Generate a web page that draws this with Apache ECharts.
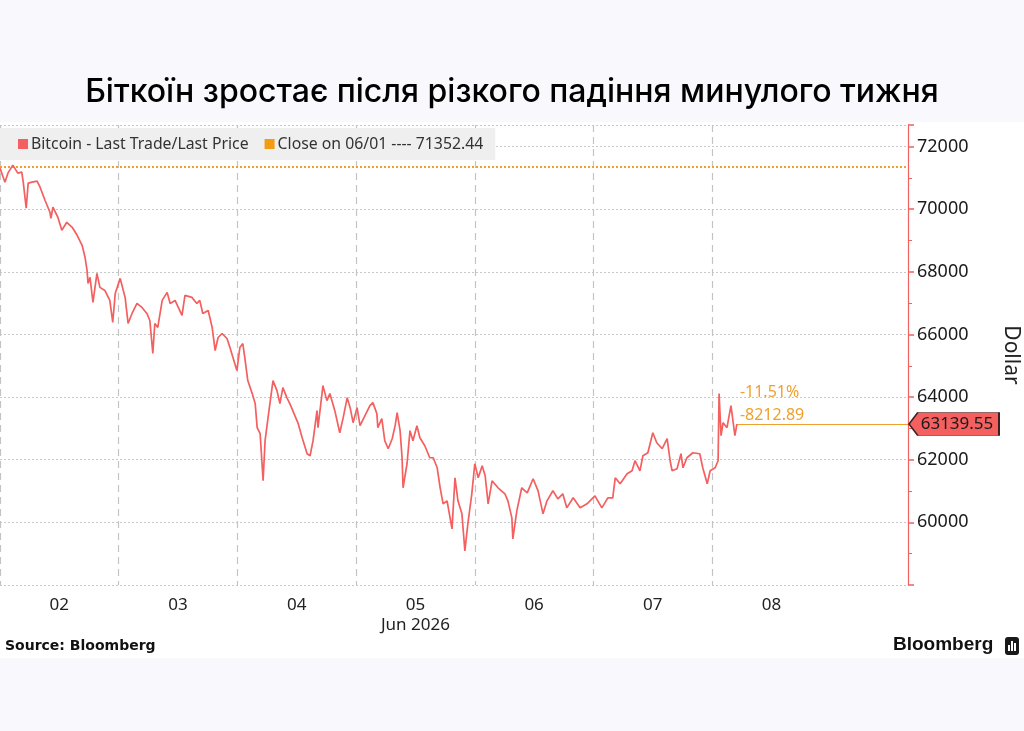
<!DOCTYPE html>
<html>
<head>
<meta charset="utf-8">
<script src="https://cdn.jsdelivr.net/npm/echarts@6/dist/echarts.min.js"></script>
<style>
html,body{margin:0;padding:0;background:#f9f8fd;}
#panel{position:absolute;left:0;top:122px;width:1024px;height:536px;background:#ffffff;}
#chart{position:absolute;left:0;top:0;width:1024px;height:731px;}
</style>
</head>
<body>
<div id="panel"></div>
<div id="chart"></div>
<script>
// Hours since 2 Jun 2026 00:00
const hours = [0.0,1.0,1.6,2.6,3.6,4.4,4.7,5.3,5.7,6.5,7.5,8.1,9.1,10.1,10.3,10.7,11.7,12.5,13.5,14.6,15.6,16.6,17.2,17.6,17.8,18.2,18.8,19.6,20.2,21.2,22.2,22.8,23.3,24.3,25.3,25.9,26.7,27.7,28.7,29.7,30.3,30.9,31.3,31.9,32.8,33.8,34.4,35.4,36.8,37.4,38.8,39.8,40.4,41.0,42.1,42.9,43.5,44.1,44.9,45.9,46.5,47.1,47.9,48.5,49.1,49.5,50.1,51.0,51.6,52.0,52.6,53.2,53.6,54.2,55.2,56.0,56.6,57.2,58.0,58.6,59.2,60.3,61.1,62.1,62.7,63.3,64.1,64.3,65.3,66.1,66.7,67.7,68.7,69.4,70.2,70.8,71.4,72.2,72.8,73.8,74.8,75.4,76.2,76.4,77.2,77.8,78.5,79.3,79.9,80.3,80.9,81.3,81.5,82.3,82.9,83.5,84.3,84.9,85.9,86.9,87.6,88.4,89.0,89.6,90.4,91.4,92.0,92.6,93.4,94.0,94.6,95.4,96.0,96.7,97.5,98.1,98.7,99.5,100.7,102.1,102.7,103.5,103.7,104.5,105.5,106.6,107.8,108.8,109.8,110.6,111.8,112.8,113.8,114.6,115.9,117.3,118.7,120.3,121.7,122.9,123.9,124.4,125.4,126.8,127.8,128.4,129.4,130.0,131.0,132.0,132.8,133.9,134.9,135.5,135.9,136.9,137.7,138.1,138.9,140.1,141.5,142.1,143.0,143.6,144.6,145.2,145.4,145.8,146.2,147.0,147.8,148.6,149.0];
const prices = [71312,70864,71152,71408,71152,71184,70864,70032,70832,70864,
70896,70704,70288,69904,69712,70064,69744,69328,69584,69424,
69168,68848,68464,68048,67632,67824,67024,67952,67504,67408,
67088,66384,67312,67792,67184,66352,66672,66992,66864,66672,
66448,65392,66352,66224,67088,67344,66992,67088,66608,67248,
67184,66992,67088,66672,66768,66224,65488,65904,66032,65872,
65584,65264,64848,65584,65712,65264,64528,64112,63792,63024,
62832,61328,62608,63344,64528,64208,63792,64304,63984,63792,
63568,63152,62704,62192,62128,62608,63568,63024,64368,63888,
64112,63568,62864,63344,63984,63664,63184,63664,63088,63408,
63728,63824,63472,63024,63312,62608,62352,62672,63088,63504,
62928,62064,61104,61872,62928,62608,63088,62704,62448,62064,
62064,61744,61104,60592,60688,59792,61424,60688,60272,59088,
59952,60912,61872,61424,61808,61488,60592,61328,61104,60912,
60688,60144,59472,60368,61104,60944,61392,61008,60272,60688,
61008,60752,60912,60464,60784,60464,60592,60848,60464,60784,
60784,61424,61232,61552,61648,61968,61648,62128,62224,62864,
62544,62352,62672,61968,61648,61712,62192,61744,62064,62224,
62192,61744,61232,61648,61744,61968,64112,62768,63184,63024,
63728,62768,63139.55];
const dayLabels = ['02','03','04','05','06','07','08'];
const monthLabel = 'Jun 2026';
const closePrev = 71352.44;
const lastPrice = 63139.55;
const changeAbs = '-8212.89';
const changePct = '-11.51%';
const xMax = 183.6;
const yMin = 58000, yMax = 72690;

const RED = '#f45f5f';
const ORANGE = '#f0a02e';
const FONT = '"Noto Sans", "Open Sans", sans-serif';
const GRIDV = '#c4c4c4';

const lineData = hours.map((h, i) => [h, prices[i]]);

const chart = echarts.init(document.getElementById('chart'), null, {renderer: 'canvas'});
chart.setOption({
  backgroundColor: 'transparent',
  animation: false,
  title: {
    text: 'Біткоїн зростає після різкого падіння минулого тижня',
    left: 'center', top: 71,
    textStyle: {fontFamily: 'Inter, sans-serif', fontSize: 32, fontWeight: 500, color: '#000'}
  },
  legend: {
    left: 0, top: 128,
    padding: [8, 12, 8, 18],
    backgroundColor: '#efefef',
    icon: 'rect', itemWidth: 10, itemHeight: 10, itemGap: 16,
    textStyle: {fontFamily: FONT, fontSize: 15.8, color: '#333', padding: [0, 0, 0, -2]},
    data: ['Bitcoin - Last Trade/Last Price', 'Close on 06/01 ---- ' + closePrev.toFixed(2)]
  },
  grid: {left: 0, right: 116, top: 125, bottom: 146, containLabel: false, outerBoundsMode: 'none'},
  xAxis: [{
    type: 'value', min: 0, max: xMax, interval: 24,
    axisLine: {show: false}, axisTick: {show: false}, axisLabel: {show: false},
    splitLine: {show: true, showMinLine: true, showMaxLine: false,
      lineStyle: {color: [GRIDV, GRIDV, GRIDV, GRIDV, GRIDV, GRIDV, GRIDV, 'rgba(0,0,0,0)'], type: [7, 5], width: 1.2}}
  }, {
    type: 'value', min: 0, max: xMax, interval: 12, position: 'bottom',
    axisLine: {show: false}, axisTick: {show: false}, splitLine: {show: false},
    axisLabel: {
      margin: 10, fontFamily: FONT, fontSize: 17, color: '#222', lineHeight: 20,
      showMinLabel: true, showMaxLabel: false,
      formatter: function (v) {
        if (Math.round(v) % 24 !== 12) return '';
        const idx = Math.round((v - 12) / 24);
        const lab = dayLabels[idx] || '';
        return lab === '05' ? lab + '\n' + monthLabel : lab;
      }
    }
  }],
  yAxis: {
    type: 'value', position: 'right', min: yMin, max: yMax, interval: 2000,
    name: 'Dollar', nameLocation: 'middle', nameRotate: -90, nameGap: 92,
    nameTextStyle: {fontFamily: FONT, fontSize: 21, color: '#222'},
    axisLine: {show: true, onZero: false, lineStyle: {color: RED, width: 1.2}},
    axisTick: {show: true, length: 6, lineStyle: {color: RED, width: 1.5}},
    minorTick: {show: true, splitNumber: 2, length: 4, lineStyle: {color: RED, width: 1}},
    axisLabel: {
      margin: 9, fontFamily: FONT, fontSize: 18, color: '#1a1a1a',
      showMinLabel: false, showMaxLabel: false,
      formatter: function (v) { return String(v); }
    },
    splitLine: {show: true, lineStyle: {color: '#c8c8c8', type: [2, 2], width: 1}}
  },
  series: [{
    name: 'Bitcoin - Last Trade/Last Price',
    type: 'line', xAxisIndex: 0, showSymbol: false, symbol: 'none',
    data: lineData,
    itemStyle: {color: RED},
    lineStyle: {color: RED, width: 1.7},
    z: 5,
    markLine: {
      silent: true, symbol: ['none', 'none'], animation: false,
      lineStyle: {color: ORANGE, width: 1.2, type: 'solid'},
      label: {show: true, position: 'insideStartTop', formatter: changePct + '\n' + changeAbs,
              fontFamily: FONT, fontSize: 16, lineHeight: 23, color: ORANGE, distance: [3, -3]},
      data: [[
        {coord: [hours[hours.length - 1], lastPrice]},
        {coord: [xMax, lastPrice]}
      ]]
    },
    markPoint: {
      silent: true, animation: false,
      data: [{
        coord: [xMax, lastPrice], value: lastPrice.toFixed(2),
        symbol: 'path://M0,12 L9,0 L92,0 L92,24 L9,24 Z',
        symbolSize: [90, 23], symbolOffset: [46, 0], symbolKeepAspect: false,
        itemStyle: {color: RED, borderColor: '#3a2020', borderWidth: 1},
        label: {show: true, position: 'inside', offset: [3, 0], fontFamily: FONT, fontSize: 17, color: '#1a1a1a',
                formatter: lastPrice.toFixed(2)}
      }]
    }
  }, {
    name: 'Close on 06/01 ---- ' + closePrev.toFixed(2),
    type: 'line', xAxisIndex: 0, showSymbol: false, symbol: 'none',
    data: [[0, closePrev], [xMax, closePrev]],
    itemStyle: {color: '#f39c12'},
    lineStyle: {color: ORANGE, width: 2, type: [2, 2]},
    z: 4
  }],
  graphic: [{
    type: 'text', left: 5, top: 639,
    style: {text: 'Source: Bloomberg', font: 'bold 14px "DejaVu Sans", sans-serif', fill: '#111'}
  }, {
    type: 'text', left: 893, top: 635,
    style: {text: 'Bloomberg', font: 'bold 19px "Liberation Sans", sans-serif', fill: '#111'}
  }, {
    type: 'group', left: 1005, top: 637,
    children: [
      {type: 'rect', shape: {x: 0, y: 0, width: 14, height: 18, r: 3}, style: {fill: '#1a1a1a'}},
      {type: 'rect', shape: {x: 3, y: 8, width: 2, height: 6}, style: {fill: '#fff'}},
      {type: 'rect', shape: {x: 6, y: 4, width: 2, height: 10}, style: {fill: '#fff'}},
      {type: 'rect', shape: {x: 9, y: 6, width: 2, height: 8}, style: {fill: '#fff'}}
    ]
  }]
});
</script>
</body>
</html>
